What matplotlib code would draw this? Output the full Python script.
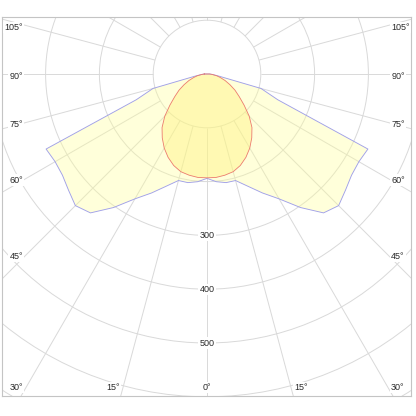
import numpy as np
import matplotlib
matplotlib.use("Agg")
import matplotlib.pyplot as plt
from matplotlib.patches import Circle

# ---- data (intensity in cd, angle from nadir in degrees) ----
angles = [0, 5, 10, 15, 20, 25, 30, 35, 40, 45, 50, 55, 60, 65, 70, 75, 80, 85, 90]
c0_180 = [193, 193, 191, 188, 181, 171, 159, 145, 130, 111, 90, 73, 60, 47, 36, 26, 18, 10, 5]
c90_270 = [194, 201, 205, 205, 222, 244, 268, 303, 337, 346, 336, 328, 326, 330, 140, 104, 22, 10, 5]
ring_values = [100, 200, 300, 400, 500, 600, 700, 800]
ring_labels = [300, 400, 500]
spoke_angles = list(range(0, 360, 15))
angle_labels = [0, 15, 30, 45, 60, 75, 90, 105]

plt.rcParams['font.family'] = ['Liberation Sans', 'DejaVu Sans']

fig = plt.figure(figsize=(4.16, 4.16), dpi=100)
px = 1 / 416
ax = fig.add_axes([2 * px, 20 * px, 409 * px, 379 * px])
scale = 0.538  # px per cd
cx, cy = 207, 74
x0, x1 = (2 - cx) / scale, (411 - cx) / scale
y1, y0 = (cy - 17) / scale, -(396 - cy) / scale
ax.set_xlim(x0, x1)
ax.set_ylim(y0, y1)
ax.set_xticks([])
ax.set_yticks([])
for s in ax.spines.values():
    s.set_color('#c4c4c4')
    s.set_linewidth(0.8)

grid_c = '#d9d9d9'
for r in ring_values:
    ax.add_patch(Circle((0, 0), r, fill=False, ec=grid_c, lw=0.7, zorder=1))
for a in spoke_angles:
    t = np.radians(a)
    ax.plot([100 * np.sin(t), 1200 * np.sin(t)], [-100 * np.cos(t), -1200 * np.cos(t)],
            color=grid_c, lw=0.7, zorder=1, solid_capstyle='butt')


def polar_xy(ang, val):
    g = np.radians(np.concatenate([-np.array(ang[::-1]), np.array(ang[1:])]))
    v = np.concatenate([np.array(val[::-1]), np.array(val[1:])])
    return v * np.sin(g), -v * np.cos(g)

bx, by = polar_xy(angles, c90_270)
ax.fill(bx, by, color='#ffff99', alpha=0.36, lw=0, zorder=2)
rx, ry = polar_xy(angles, c0_180)
ax.fill(rx, ry, color='#fff27a', alpha=0.4, lw=0, zorder=3)
ax.plot(np.append(bx, bx[0]), np.append(by, by[0]), color='#a0a0e8', lw=0.65, zorder=4)
ax.plot(np.append(rx, rx[0]), np.append(ry, ry[0]), color='#ec7b6e', lw=0.6, zorder=5)

box = dict(boxstyle='square,pad=0.12', fc='white', ec='none')
for v in ring_labels:
    ax.text(0, -v, str(v), ha='center', va='center', fontsize=6.5, color='#2a2a2a',
            bbox=box, zorder=6)

W = 180 / scale
B = 311 / scale
for a in angle_labels:
    t = np.radians(a)
    sides = [1, -1] if a != 0 else [0]
    for sd in sides:
        dx, dy = np.sin(t), -np.cos(t)
        cand = []
        if dx > 1e-9:
            cand.append(W / dx)
        if dy < -1e-9:
            cand.append(B / -dy)
        k = min(cand)
        px_, py_ = k * dx * (sd if sd != 0 else 1), k * dy
        if sd == 0:
            ha, off = 'center', 0
        elif sd < 0:
            ha, off = 'right', -3
        else:
            ha, off = 'left', 3
        ax.annotate(f"{a}°", (px_, py_), xytext=(off, -1.5), textcoords='offset points',
                    ha=ha, va='center', fontsize=6.5, color='#2a2a2a', bbox=box,
                    zorder=6, annotation_clip=False)

fig.savefig('out.png', dpi=100)
